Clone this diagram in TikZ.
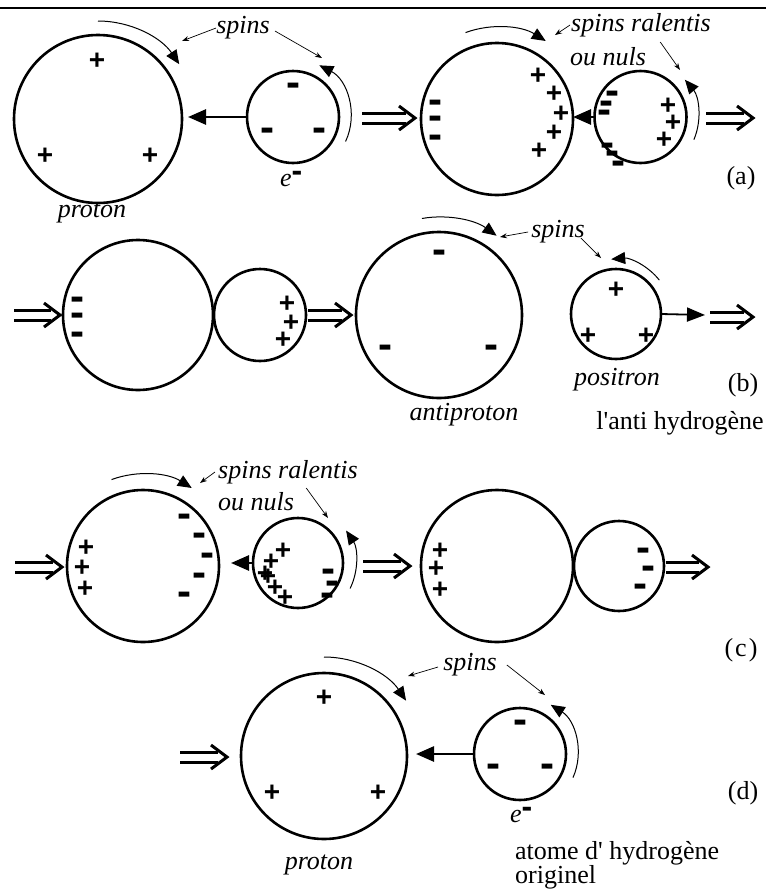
\documentclass[tikz,border=0pt]{standalone}
\usepackage{fontspec}
\setmainfont{Liberation Serif}
\newfontfamily\chargefont{Liberation Sans}
\usetikzlibrary{arrows.meta,calc}

\tikzset{
  ring/.style={circle, draw, line width=2.6pt, inner sep=0pt, outer sep=0pt, minimum size=#1},
  chpos/.style={font=\chargefont\bfseries\fontsize{28}{28}\selectfont, inner sep=0pt,
    text height=16.5pt, text depth=-3pt, anchor=base, yshift=-9.8pt},
  chneg/.style={font=\chargefont\bfseries\fontsize{42}{42}\selectfont, inner sep=0pt,
    text height=14.5pt, text depth=-8pt, anchor=base, yshift=-11.3pt},
  lbl/.style={font=\itshape\fontsize{26}{28}\selectfont, inner sep=0pt},
  rmlbl/.style={font=\fontsize{26}{28}\selectfont, inner sep=0pt},
  spin/.style={line width=1pt, -{Triangle[length=14pt,width=12pt]}},
  ptr/.style={line width=0.7pt, -{Stealth[length=7pt,width=5pt]}},
  push/.style={line width=2.6pt, -{Triangle[length=18pt,width=15pt]}},
  implyline/.style={line width=3pt},
}

% charges: prefix, list of positions
\newcommand\poscharges[2]{\foreach \p [count=\i] in {#2} \node[chpos] (#1p\i) at \p {+};}
\newcommand\negcharges[2]{\foreach \p [count=\i] in {#2} \node[chneg] (#1m\i) at \p {-};}
% double "implies" arrow between two named coordinates
\newcommand\implyarrow[2]{%
  \draw[implyline] ($(#1)+(0,-5)$) -- ($(#2)+(-9,-5)$) ($(#1)+(0,5)$) -- ($(#2)+(-9,5)$);
  \draw[implyline, line join=miter] ($(#2)+(-16,-12)$) -- (#2) -- ($(#2)+(-16,12)$);}
% electron / positron mark with a superscript bar
\newcommand\elec{\textit{e}\raisebox{4.4pt}{\chargefont\bfseries\fontsize{32}{32}\selectfont -}}

\begin{document}
\begin{tikzpicture}[x=1pt, y=-1pt]
\useasboundingbox (0,0) rectangle (766,892);

% header rule
\draw[line width=2.6pt] (0,8) -- (766,8);

%% ---------- (a) ----------
\node[ring=168pt] (pA) at (98,119) {};
\node[ring=92pt] (eA) at (293,117) {};
\poscharges{pA}{(97,60),(45,155),(150,155)}
\negcharges{eA}{(293,85),(267,130),(319,130)}
\draw[push, shorten >=6pt] (eA.west) -- (eA.west -| pA.east);
\draw[spin] ($(pA)+(-90:98)$) arc[start angle=-90, end angle=-34, radius=98];
\draw[spin] ($(eA)+(25:58)$) arc[start angle=25, end angle=-63, radius=58];
\node[lbl] (sA) at (243,28) {spins};
\coordinate (sAh1) at (182,41);
\coordinate (sAh2) at (322,58);
\draw[ptr] (sA.west) -- (sAh1);
\draw[ptr] ([xshift=5pt,yshift=-3pt]sA.east) -- (sAh2);
\node[lbl] (prA) at (92,213) {proton};
\node[rmlbl, anchor=base west] (elA) at (280,186) {\elec};

\coordinate (d1a) at (362,118); \coordinate (d1b) at (415,118);
\implyarrow{d1a}{d1b}

\node[ring=152pt] (pA2) at (497,119) {};
\node[ring=92pt] (eA2) at (640.5,117) {};
\negcharges{pA2}{(435,102),(435,118),(435,137)}
\poscharges{pA2}{(538,75),(554,93),(561,113),(554,132),(539,150)}
\negcharges{eA2}{(612,93),(606,103),(604,112),(607,145),(612,153),(618,163)}
\poscharges{eA2}{(668,105),(673,122),(664,139)}
\draw[push] (eA2.west) -- (eA2.west -| pA2.east);
\draw[spin] ($(pA2)+(-110:92)$) arc[start angle=-110, end angle=-58, radius=92];
\draw[spin] ($(eA2)+(23:58)$) arc[start angle=23, end angle=-40, radius=58];
\node[lbl, anchor=west] (sA2) at (571,25) {spins ralentis};
\node[lbl, anchor=west] (oA2) at (570,57) {ou nuls};
\coordinate (sA2h1) at (555,35);
\coordinate (sA2h2) at (680,70);
\draw[ptr] ([xshift=-1pt]sA2.west) -- (sA2h1);
\draw[ptr] ([xshift=14pt,yshift=15pt]oA2.east) -- (sA2h2);

\coordinate (d2a) at (706,118); \coordinate (d2b) at (753,118);
\implyarrow{d2a}{d2b}
\node[rmlbl] (la) at (741,178) {(a)};

%% ---------- (b) ----------
\coordinate (d3a) at (14,315); \coordinate (d3b) at (60,315);
\implyarrow{d3a}{d3b}
\node[ring=150pt] (pB) at (138,315) {};
\node[ring=92pt] (eB) at (260,315) {};
\negcharges{pB}{(77,299),(77,315),(77,334)}
\poscharges{eB}{(287,303),(291,322),(283,339)}
\coordinate (d4a) at (308,315); \coordinate (d4b) at (351,315);
\implyarrow{d4a}{d4b}

\node[ring=166pt] (pB2) at (439,315) {};
\node[ring=90pt] (eB2) at (616,314) {};
\negcharges{pB2}{(439,252),(385,347),(491,347)}
\poscharges{eB2}{(616,289),(588,335),(646,335)}
\draw[spin] ($(pB2)+(-100:98)$) arc[start angle=-100, end angle=-54, radius=98];
\draw[spin] ($(eB2)+(-38:55)$) arc[start angle=-38, end angle=-95, radius=55];
\node[lbl] (sB) at (558,232) {spins};
\coordinate (sBh1) at (500,237);
\coordinate (sBh2) at (601,258);
\draw[ptr] ([xshift=-3pt]sB.west) -- (sBh1);
\draw[ptr] ([xshift=-4pt,yshift=-6pt]sB.east) -- (sBh2);
\coordinate (eB2t) at (705,315);
\draw[line width=1.8pt, -{Triangle[length=18pt,width=14pt]}] (eB2.east) -- (eB2t);
\coordinate (d5a) at (710,317); \coordinate (d5b) at (753,317);
\implyarrow{d5a}{d5b}
\node[lbl] (poB) at (617,380) {positron};
\node[rmlbl] (lb) at (743,385) {(b)};
\node[lbl] (apB) at (464,415) {antiproton};
\node[rmlbl] (ahB) at (680,423) {l\textquotesingle anti hydrogène};

%% ---------- (c) ----------
\coordinate (d6a) at (15,567); \coordinate (d6b) at (62,567);
\implyarrow{d6a}{d6b}
\node[ring=152pt] (pC) at (143,566) {};
\node[ring=90pt] (eC) at (298,563) {};
\poscharges{pC}{(86,547),(82,567),(85,588)}
\negcharges{pC}{(184,516),(199,535),(207,555),(199,575),(184,594)}
\poscharges{eC}{(283,550),(271,561),(265,573),(268,576),(275,587),(285,597)}
\negcharges{eC}{(328,571),(332,583),(327,595)}
\draw[push, shorten >=12pt] (eC.west) -- (eC.west -| pC.east);
\draw[spin] ($(pC)+(-110:92)$) arc[start angle=-110, end angle=-58, radius=92];
\draw[spin] ($(eC)+(26:58)$) arc[start angle=26, end angle=-34, radius=58];
\node[lbl, anchor=west] (sC) at (218,472) {spins ralentis};
\node[lbl, anchor=west] (oC) at (218,502) {ou nuls};
\coordinate (sCh1) at (200,483);
\coordinate (sCh2) at (328,518);
\draw[ptr] ([xshift=-3pt]sC.west) -- (sCh1);
\draw[ptr] ([xshift=12pt,yshift=14pt]oC.east) -- (sCh2);
\coordinate (d7a) at (363,566); \coordinate (d7b) at (410,566);
\implyarrow{d7a}{d7b}

\node[ring=152pt] (pC2) at (497,566) {};
\node[ring=90pt] (eC2) at (619,566) {};
\poscharges{pC2}{(440,550),(436,568),(440,589)}
\negcharges{eC2}{(643,550),(648,568),(640,586)}
\coordinate (d8a) at (666,567); \coordinate (d8b) at (708,567);
\implyarrow{d8a}{d8b}
\node[rmlbl] (lc) at (741,650) {(\kern2pt c\kern2pt)};
\fill (471,656) circle (1.2);

%% ---------- (d) ----------
\coordinate (d9a) at (180,757); \coordinate (d9b) at (227,757);
\implyarrow{d9a}{d9b}
\node[ring=166pt] (pD) at (324,756) {};
\node[ring=92pt] (eD) at (520,754) {};
\poscharges{pD}{(324,697),(272,792),(378,792)}
\negcharges{eD}{(520,722),(493,766),(547,766)}
\draw[push, shorten >=9pt] (eD.west) -- (eD.west -| pD.east);
\draw[spin] ($(pD)+(-90:99)$) arc[start angle=-90, end angle=-34, radius=99];
\draw[spin] ($(eD)+(24:58)$) arc[start angle=24, end angle=-58, radius=58];
\node[lbl] (sD) at (470,665) {spins};
\coordinate (sDh1) at (408,676);
\coordinate (sDh2) at (545,695);
\draw[ptr] ([xshift=-5pt,yshift=-2pt]sD.west) -- (sDh1);
\draw[ptr] ([xshift=10pt]sD.east) -- (sDh2);
\node[lbl] (prD) at (319,865) {proton};
\node[rmlbl, anchor=base west] (elD) at (510,822) {\elec};
\node[rmlbl] (ld) at (743,793) {(d)};
\node[rmlbl, anchor=west] (atD) at (515,853) {atome d\textquotesingle\ hydrogène};
\node[rmlbl, anchor=west] (orD) at (515,877) {originel};
\end{tikzpicture}
\end{document}
